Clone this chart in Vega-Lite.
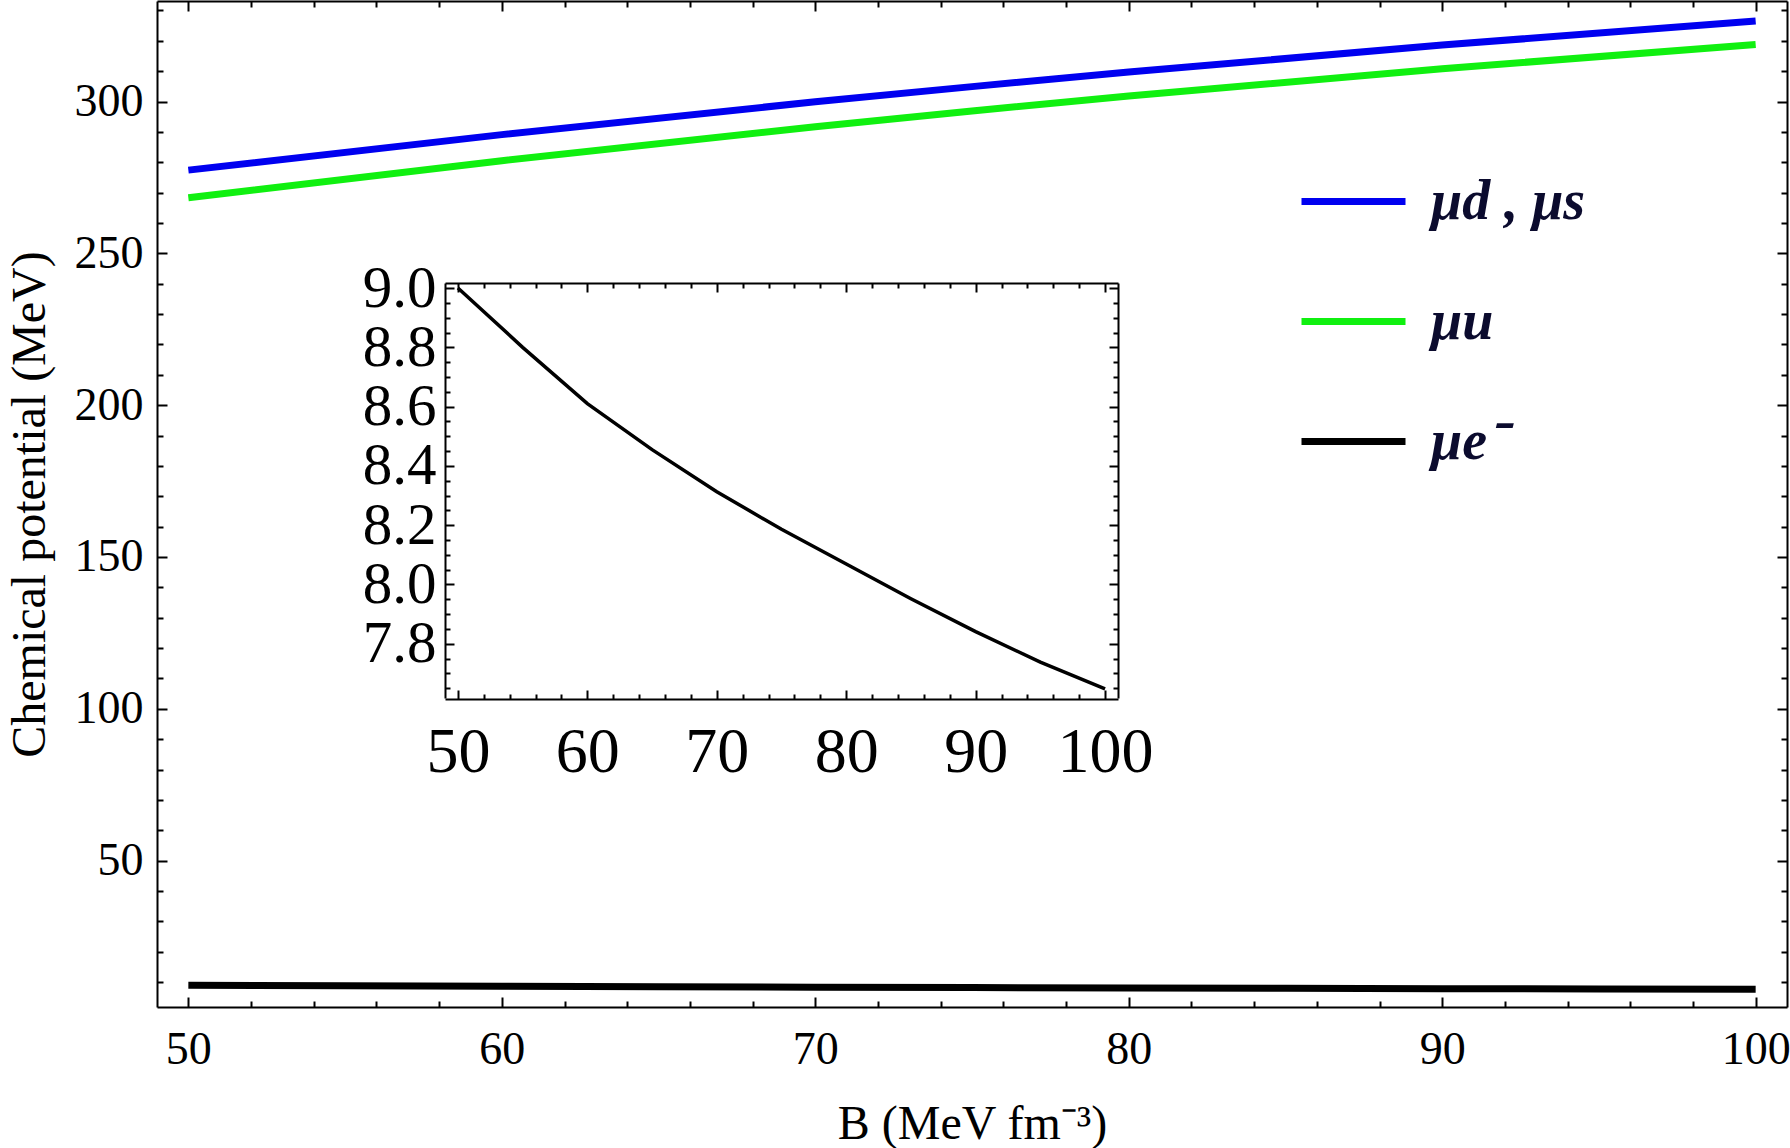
{
  "$schema": "https://vega.github.io/schema/vega-lite/v6.json",
  "width": 1630,
  "height": 1006,
  "autosize": "none",
  "padding": {"left": 157, "top": 1, "right": 3, "bottom": 141},
  "config": {
    "view": {"stroke": null},
    "font": "Liberation Serif",
    "axis": {
      "grid": false,
      "domainColor": "black",
      "domainWidth": 2,
      "tickColor": "black",
      "tickWidth": 2,
      "labelOverlap": false,
      "labelFont": "Liberation Serif",
      "labelColor": "black",
      "titleFont": "Liberation Serif",
      "titleFontWeight": "normal",
      "titleColor": "black"
    }
  },
  "datasets": {
    "mu": [
      {"B": 50, "mu": 277.4, "series": "μd , μs"},
      {"B": 60, "mu": 289.1, "series": "μd , μs"},
      {"B": 70, "mu": 299.9, "series": "μd , μs"},
      {"B": 75, "mu": 304.9, "series": "μd , μs"},
      {"B": 80, "mu": 309.7, "series": "μd , μs"},
      {"B": 90, "mu": 318.6, "series": "μd , μs"},
      {"B": 100, "mu": 326.5, "series": "μd , μs"},
      {"B": 50, "mu": 268.3, "series": "μu"},
      {"B": 60, "mu": 280.5, "series": "μu"},
      {"B": 70, "mu": 291.7, "series": "μu"},
      {"B": 75, "mu": 296.9, "series": "μu"},
      {"B": 80, "mu": 301.8, "series": "μu"},
      {"B": 90, "mu": 310.8, "series": "μu"},
      {"B": 100, "mu": 318.8, "series": "μu"},
      {"B": 50, "mu": 9.0, "series": "μe⁻"},
      {"B": 55, "mu": 8.8, "series": "μe⁻"},
      {"B": 60, "mu": 8.61, "series": "μe⁻"},
      {"B": 65, "mu": 8.455, "series": "μe⁻"},
      {"B": 70, "mu": 8.313, "series": "μe⁻"},
      {"B": 75, "mu": 8.186, "series": "μe⁻"},
      {"B": 80, "mu": 8.069, "series": "μe⁻"},
      {"B": 85, "mu": 7.952, "series": "μe⁻"},
      {"B": 90, "mu": 7.841, "series": "μe⁻"},
      {"B": 95, "mu": 7.738, "series": "μe⁻"},
      {"B": 100, "mu": 7.648, "series": "μe⁻"}
    ]
  },
  "layer": [
    {
      "data": {"name": "mu"},
      "layer": [
        {
          "mark": {"type": "line"},
          "encoding": {
            "x": {
              "field": "B", "type": "quantitative",
              "scale": {"domain": [49, 101], "nice": false},
              "axis": {
                "orient": "bottom",
                "values": [50, 52, 54, 56, 58, 60, 62, 64, 66, 68, 70, 72, 74, 76, 78, 80, 82, 84, 86, 88, 90, 92, 94, 96, 98, 100],
                "labelExpr": "datum.value % 10 === 0 ? datum.label : ''",
                "tickSize": {"condition": {"test": "datum.value % 10 === 0", "value": -10}, "value": -6},
                "labelFontSize": 46,
                "labelPadding": 30,
                "title": "B (MeV fm⁻³)",
                "titleFontSize": 48,
                "titlePadding": 24
              }
            },
            "y": {
              "field": "mu", "type": "quantitative",
              "scale": {"domain": [1.8, 333.1], "nice": false, "zero": false},
              "axis": {
                "orient": "left",
                "values": [10, 20, 30, 40, 50, 60, 70, 80, 90, 100, 110, 120, 130, 140, 150, 160, 170, 180, 190, 200, 210, 220, 230, 240, 250, 260, 270, 280, 290, 300, 310, 320, 330],
                "labelExpr": "datum.value % 50 === 0 ? datum.label : ''",
                "tickSize": {"condition": {"test": "datum.value % 50 === 0", "value": -10}, "value": -6},
                "labelFontSize": 46,
                "labelPadding": 24,
                "title": "Chemical potential  (MeV)",
                "titleFontSize": 48,
                "titlePadding": 20
              }
            },
            "color": {
              "field": "series", "type": "nominal",
              "scale": {"domain": ["μd , μs", "μu", "μe⁻"], "range": ["#0000f0", "#10f010", "#000000"]},
              "legend": {
                "orient": "none",
                "legendX": 1141,
                "legendY": 145,
                "title": null,
                "symbolType": "stroke",
                "symbolSize": 10816,
                "symbolStrokeWidth": 6,
                "labelFont": "Liberation Serif",
                "labelFontSize": 56,
                "labelFontStyle": "italic",
                "labelFontWeight": "bold",
                "labelColor": "#0b0b2e",
                "labelOffset": 22,
                "rowPadding": 36,
                "labelLimit": 400
              }
            },
            "strokeWidth": {
              "field": "series", "type": "nominal",
              "scale": {"domain": ["μd , μs", "μu", "μe⁻"], "range": [7, 7, 11]},
              "legend": null
            }
          }
        },
        {
          "mark": {"type": "line", "strokeOpacity": 0},
          "encoding": {
            "x": {
              "field": "B", "type": "quantitative",
              "axis": {
                "orient": "top",
                "values": [50, 52, 54, 56, 58, 60, 62, 64, 66, 68, 70, 72, 74, 76, 78, 80, 82, 84, 86, 88, 90, 92, 94, 96, 98, 100],
                "labels": false,
                "title": null,
                "tickSize": {"condition": {"test": "datum.value % 10 === 0", "value": -10}, "value": -6}
              }
            },
            "y": {
              "field": "mu", "type": "quantitative",
              "axis": {
                "orient": "right",
                "values": [10, 20, 30, 40, 50, 60, 70, 80, 90, 100, 110, 120, 130, 140, 150, 160, 170, 180, 190, 200, 210, 220, 230, 240, 250, 260, 270, 280, 290, 300, 310, 320, 330],
                "labels": false,
                "title": null,
                "tickSize": {"condition": {"test": "datum.value % 50 === 0", "value": -10}, "value": -6}
              }
            },
            "detail": {"field": "series"}
          }
        }
      ],
      "resolve": {"axis": {"x": "independent", "y": "independent"}}
    },
    {
      "data": {"name": "mu"},
      "transform": [{"filter": "datum.series === 'μe⁻'"}],
      "layer": [
        {
          "mark": {"type": "line", "color": "black", "strokeWidth": 3.5},
          "encoding": {
            "x": {
              "field": "B", "type": "quantitative",
              "scale": {"domain": [49, 101], "nice": false, "range": [288, 961]},
              "axis": {
                "orient": "bottom",
                "offset": -308,
                "values": [50, 52, 54, 56, 58, 60, 62, 64, 66, 68, 70, 72, 74, 76, 78, 80, 82, 84, 86, 88, 90, 92, 94, 96, 98, 100],
                "labelExpr": "datum.value % 10 === 0 ? datum.label : ''",
                "tickSize": {"condition": {"test": "datum.value % 10 === 0", "value": -9}, "value": -5},
                "labelFontSize": 64,
                "labelPadding": 30,
                "title": null
              }
            },
            "y": {
              "field": "mu", "type": "quantitative",
              "scale": {"domain": [7.617, 9.017], "nice": false, "zero": false, "range": [697, 282]},
              "axis": {
                "orient": "left",
                "offset": -288,
                "values": [7.65, 7.7, 7.75, 7.8, 7.85, 7.9, 7.95, 8.0, 8.05, 8.1, 8.15, 8.2, 8.25, 8.3, 8.35, 8.4, 8.45, 8.5, 8.55, 8.6, 8.65, 8.7, 8.75, 8.8, 8.85, 8.9, 8.95, 9.0],
                "labelExpr": "round(datum.value * 100) % 20 === 0 ? format(datum.value, '.1f') : ''",
                "tickSize": {"condition": {"test": "round(datum.value * 100) % 20 === 0", "value": -9}, "value": -5},
                "labelFontSize": 59,
                "labelPadding": 18,
                "title": null
              }
            }
          }
        },
        {
          "mark": {"type": "line", "strokeOpacity": 0},
          "encoding": {
            "x": {
              "field": "B", "type": "quantitative",
              "axis": {
                "orient": "top",
                "offset": -282,
                "values": [50, 52, 54, 56, 58, 60, 62, 64, 66, 68, 70, 72, 74, 76, 78, 80, 82, 84, 86, 88, 90, 92, 94, 96, 98, 100],
                "labels": false,
                "title": null,
                "tickSize": {"condition": {"test": "datum.value % 10 === 0", "value": -9}, "value": -5}
              }
            },
            "y": {
              "field": "mu", "type": "quantitative",
              "axis": {
                "orient": "right",
                "offset": -669,
                "values": [7.65, 7.7, 7.75, 7.8, 7.85, 7.9, 7.95, 8.0, 8.05, 8.1, 8.15, 8.2, 8.25, 8.3, 8.35, 8.4, 8.45, 8.5, 8.55, 8.6, 8.65, 8.7, 8.75, 8.8, 8.85, 8.9, 8.95, 9.0],
                "labels": false,
                "title": null,
                "tickSize": {"condition": {"test": "round(datum.value * 100) % 20 === 0", "value": -9}, "value": -5}
              }
            }
          }
        }
      ],
      "resolve": {"axis": {"x": "independent", "y": "independent"}}
    }
  ],
  "resolve": {"scale": {"x": "independent", "y": "independent"}}
}
